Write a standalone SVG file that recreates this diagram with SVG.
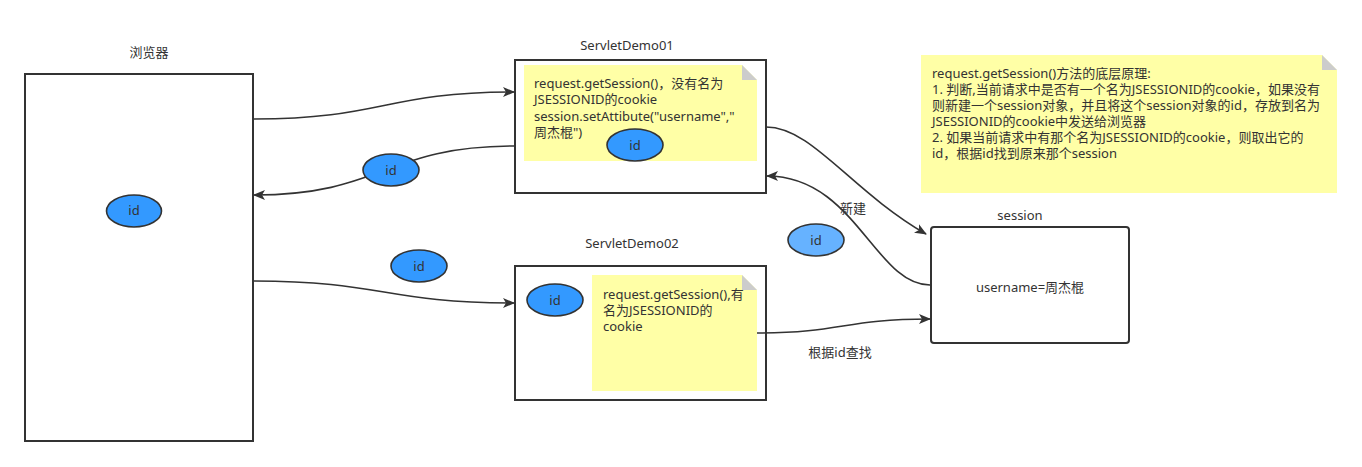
<svg xmlns="http://www.w3.org/2000/svg" width="1362" height="467" viewBox="0 0 1362 467">
<style>
.box{fill:#fff;stroke:#333;stroke-width:2}
.note{fill:#ffffa6;stroke:none}
.fold{fill:#cccccc;stroke:none}
.t{font-family:"Noto Sans","Noto Sans CJK SC",sans-serif;font-size:13px;fill:#333}
.c{text-anchor:middle}
.idE{fill:#3399ff;stroke:#333;stroke-width:1.6}
.idL{fill:#66b2ff;stroke:#333;stroke-width:1.6}
.edge{fill:none;stroke:#333;stroke-width:1.6}
</style>
<defs>
<marker id="arr" markerWidth="12" markerHeight="10" refX="11" refY="5" orient="auto" markerUnits="userSpaceOnUse">
<path d="M0,0 L12,5 L0,10 L3,5 Z" fill="#333"/>
</marker>
</defs>
<rect width="1362" height="467" fill="#fff"/>

<g id="browser">
<text class="t c" x="149" y="57">浏览器</text>
<rect class="box" x="25" y="74" width="228" height="367"/>
<ellipse class="idE" cx="134" cy="211" rx="27.5" ry="16"/>
<text class="t c" x="134" y="215">id</text>
</g>

<g id="servletdemo01">
<text class="t c" x="627" y="50">ServletDemo01</text>
<rect class="box" x="515" y="60" width="251" height="133"/>
<polygon class="note" points="524,65 742,65 757,80 757,161 524,161"/>
<polygon class="fold" points="742,65 742,80 757,80"/>
<text class="t"><tspan x="534" y="88">request.getSession()，没有名为</tspan><tspan x="534" y="104">JSESSIONID的cookie</tspan><tspan x="534" y="121">session.setAttibute("username","</tspan><tspan x="534" y="137">周杰棍")</tspan></text>
<ellipse class="idE" cx="635" cy="145" rx="28" ry="16"/>
<text class="t c" x="635" y="150">id</text>
</g>

<g id="servletdemo02">
<text class="t c" x="632" y="248">ServletDemo02</text>
<rect class="box" x="515" y="266" width="251" height="134"/>
<polygon class="note" points="592,275 742,275 757,290 757,391 592,391"/>
<polygon class="fold" points="742,275 742,290 757,290"/>
<text class="t"><tspan x="603" y="299">request.getSession(),有</tspan><tspan x="603" y="315">名为JSESSIONID的</tspan><tspan x="603" y="331">cookie</tspan></text>
<ellipse class="idE" cx="555" cy="300" rx="28" ry="16"/>
<text class="t c" x="555" y="305">id</text>
</g>

<g id="principle-note">
<polygon class="note" points="921,55 1322,55 1337,70 1337,193 921,193"/>
<polygon class="fold" points="1322,55 1322,70 1337,70"/>
<text class="t"><tspan x="932" y="78">request.getSession()方法的底层原理:</tspan><tspan x="932" y="94">1. 判断,当前请求中是否有一个名为JSESSIONID的cookie，如果没有</tspan><tspan x="932" y="110">则新建一个session对象，并且将这个session对象的id，存放到名为</tspan><tspan x="932" y="126">JSESSIONID的cookie中发送给浏览器</tspan><tspan x="932" y="142">2. 如果当前请求中有那个名为JSESSIONID的cookie，则取出它的</tspan><tspan x="932" y="158">id，根据id找到原来那个session</tspan></text>
</g>

<g id="session">
<text class="t c" x="1020" y="220">session</text>
<rect class="box" x="931" y="227" width="198" height="116" rx="3"/>
<text class="t c" x="1030" y="292">username=周杰棍</text>
</g>

<g id="connectors">
<path class="edge" d="M253,119 C384,119 384,92 514,92" marker-end="url(#arr)"/>
<path class="edge" d="M515,146 C384,146 384,195 254,195" marker-end="url(#arr)"/>
<path class="edge" d="M253,281 C384,281 384,303 514,303" marker-end="url(#arr)"/>
<path class="edge" d="M766,127 C812,127 850,190 926,234" marker-end="url(#arr)"/>
<path class="edge" d="M930,285 C875,285 855,176 767,176" marker-end="url(#arr)"/>
<path class="edge" d="M757,333 C843,333 843,319 930,319" marker-end="url(#arr)"/>
<ellipse class="idE" cx="391" cy="170" rx="28" ry="16"/>
<text class="t c" x="391" y="175">id</text>
<ellipse class="idE" cx="419" cy="266" rx="28" ry="16"/>
<text class="t c" x="419" y="271">id</text>
<ellipse class="idL" cx="816" cy="240" rx="28" ry="16"/>
<text class="t c" x="816" y="245">id</text>
<text class="t c" x="853" y="213">新建</text>
<text class="t c" x="840" y="357">根据id查找</text>
</g>
</svg>
